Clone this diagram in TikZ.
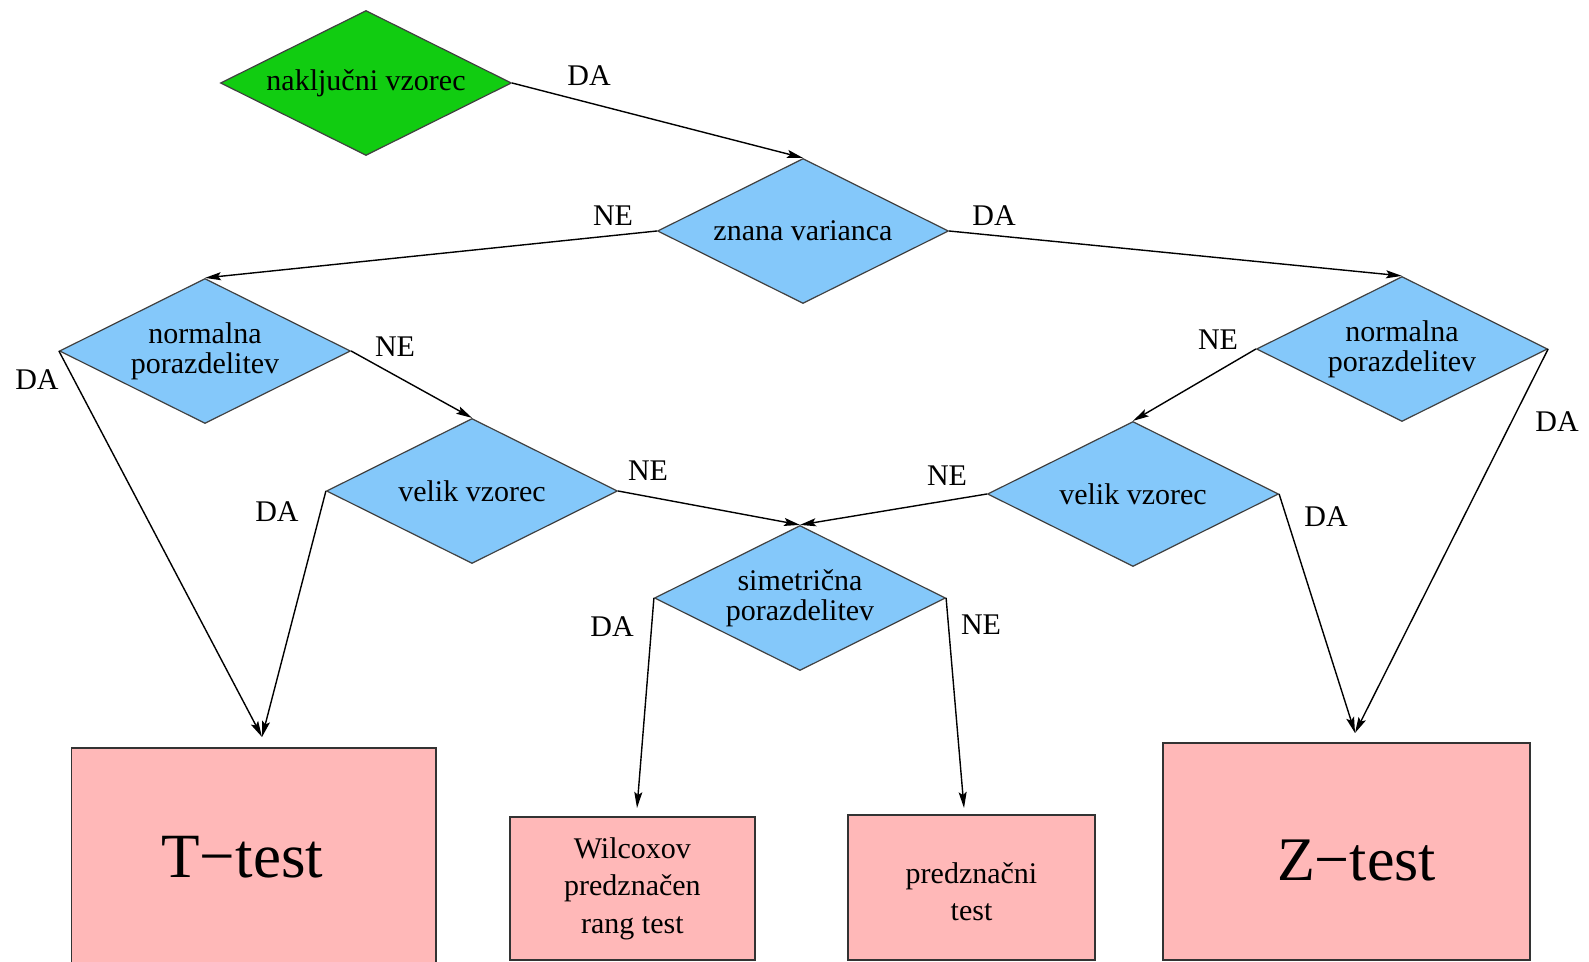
\documentclass[tikz,border=0pt]{standalone}
\usepackage{fontspec}
\setmainfont{Liberation Serif}
\usetikzlibrary{shapes.geometric,arrows.meta}
\definecolor{dgreen}{RGB}{17,204,17}
\definecolor{dblue}{RGB}{132,200,250}
\definecolor{dpink}{RGB}{255,184,184}
\begin{document}
\begin{tikzpicture}[x=0.5pt,y=-0.5pt,
  dec/.style={diamond, draw=black!75, line width=0.6pt, inner sep=0pt, aspect=2,
    minimum width=145.5pt, minimum height=72.5pt, align=center,
    font=\fontsize{15}{15}\selectfont},
  res/.style={rectangle, draw=black!80, line width=0.8pt, fill=dpink, inner sep=0pt},
  con/.style={line width=0.7pt, -{Stealth[length=8pt,width=4pt,inset=1.5pt]}},
  lab/.style={font=\fontsize{15}{15}\selectfont, inner sep=0pt}]
\useasboundingbox (0,0) rectangle (1589,962);
\fill[white] (0,0) rectangle (1589,962);
\clip (0,0) rectangle (1589,962);

% decisions
\node[dec, fill=dgreen] (g) at (366,83) {naključni vzorec};
\node[dec, fill=dblue] (zv) at (803,231) {znana varianca};
\node[dec, fill=dblue] (nl) at (205,351) {normalna\\porazdelitev};
\node[dec, fill=dblue] (nr) at (1402,349) {normalna\\porazdelitev};
\node[dec, fill=dblue] (vl) at (472,491) {velik vzorec};
\node[dec, fill=dblue] (vr) at (1133,494) {velik vzorec};
\node[dec, fill=dblue] (sim) at (800,598) {simetrična\\porazdelitev};

% results
\node[res, minimum width=182.25pt, minimum height=109pt,
  font=\fontsize{31.5}{36}\selectfont] (T) at (253.75,857) {T−test\hspace*{11.5pt}};
\node[res, minimum width=183.5pt, minimum height=108.5pt,
  font=\fontsize{31}{36}\selectfont] (Z) at (1346.5,851.5)
  {\raisebox{-4.25pt}[\height][\depth]{\hspace*{10pt}Z−test}};
\node[res, minimum width=122.7pt, minimum height=71.7pt, align=center,
  font=\fontsize{15}{18.75}\selectfont] (W) at (632.4,888.4)
  {Wilcoxov\\predznačen\\rang test};
\node[res, minimum width=123.5pt, minimum height=72.5pt,
  font=\fontsize{15}{18.75}\selectfont] (P) at (971.5,887.5)
  {\raisebox{-3.5pt}[\height][\depth]{\begin{tabular}{@{}c@{}}predznačni\\test\end{tabular}}};

% arrow tips above the result boxes
\coordinate (tT) at (262,737);
\coordinate (tZ) at (1355,733);
\coordinate (tW) at (637,808);
\coordinate (tP) at (964,808);

% connectors
\draw[con] (g.east) -- (zv.north);
\draw[con] (zv.west) -- (nl.north);
\draw[con] (zv.east) -- (nr.north);
\draw[con] (nl.west) -- (tT);
\draw[con] (nl.east) -- (vl.north);
\draw[con] (vl.west) -- (tT);
\draw[con] (vl.east) -- (sim.north);
\draw[con] (nr.west) -- (vr.north);
\draw[con] (nr.east) -- (tZ);
\draw[con] (vr.east) -- (tZ);
\draw[con] (vr.west) -- (sim.north);
\draw[con] (sim.west) -- (tW);
\draw[con] (sim.east) -- (tP);

% labels
\node[lab] (l1) at (589,76) {DA};
\node[lab] (l2) at (613,216) {NE};
\node[lab] (l3) at (994,216) {DA};
\node[lab] (l4) at (37,380) {DA};
\node[lab] (l5) at (395,347) {NE};
\node[lab] (l6) at (1218,340) {NE};
\node[lab] (l7) at (1557,422) {DA};
\node[lab] (l8) at (277,512) {DA};
\node[lab] (l9) at (648,471) {NE};
\node[lab] (l10) at (947,476) {NE};
\node[lab] (l11) at (1326,517) {DA};
\node[lab] (l12) at (612,627) {DA};
\node[lab] (l13) at (981,625) {NE};
\end{tikzpicture}
\end{document}
